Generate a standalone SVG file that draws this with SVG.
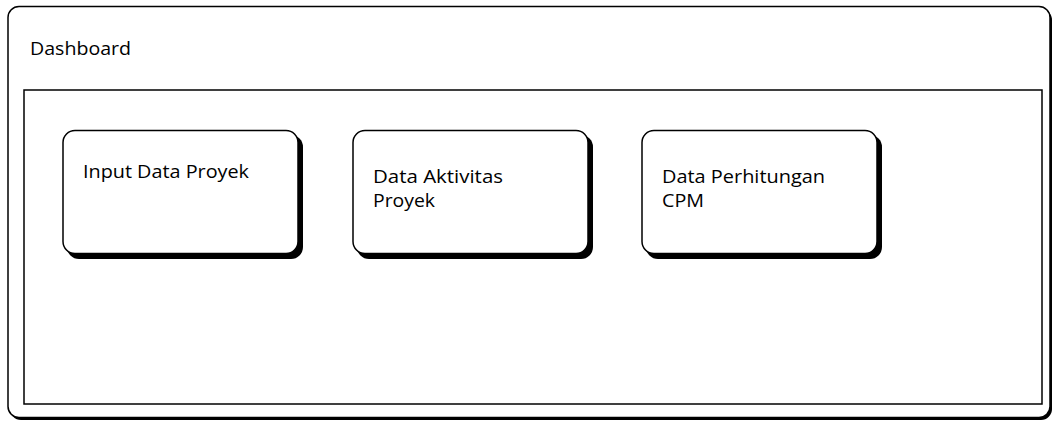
<svg xmlns="http://www.w3.org/2000/svg" width="1053" height="421" viewBox="0 0 1053 421">
  <style>
    .frame { fill: #ffffff; stroke: #000000; stroke-width: 1.5; }
    .card { fill: #ffffff; stroke: #000000; stroke-width: 1.5; }
    .shadow { fill: #000000; }
    .label { font-family: "Open Sans", "Liberation Sans", sans-serif; font-size: 17.5px; fill: #000000; }
  </style>
  <rect width="1053" height="421" fill="#ffffff"/>

  <!-- outer dashboard window -->
  <g id="dashboard">
    <rect class="shadow" x="10" y="9" width="1042" height="411" rx="11"/>
    <rect class="frame" x="8" y="6.5" width="1042" height="411" rx="11"/>
    <text class="label" x="30" y="55" textLength="101" lengthAdjust="spacingAndGlyphs">Dashboard</text>
    <rect class="frame" x="24" y="90" width="1018" height="314" fill="none"/>
  </g>

  <!-- menu cards -->
  <g id="card-input">
    <rect class="shadow" x="67" y="135" width="236" height="124" rx="12"/>
    <rect class="card" x="63" y="130.5" width="235" height="123" rx="12"/>
    <text class="label" x="83" y="178" textLength="166" lengthAdjust="spacingAndGlyphs">Input Data Proyek</text>
  </g>

  <g id="card-aktivitas">
    <rect class="shadow" x="357" y="135" width="236" height="124" rx="12"/>
    <rect class="card" x="353" y="130.5" width="235" height="123" rx="12"/>
    <text class="label" x="373" y="183" textLength="130" lengthAdjust="spacingAndGlyphs">Data Aktivitas</text>
    <text class="label" x="373" y="207" textLength="62" lengthAdjust="spacingAndGlyphs">Proyek</text>
  </g>

  <g id="card-cpm">
    <rect class="shadow" x="646" y="135" width="236" height="124" rx="12"/>
    <rect class="card" x="642" y="130.5" width="235" height="123" rx="12"/>
    <text class="label" x="662" y="183" textLength="163" lengthAdjust="spacingAndGlyphs">Data Perhitungan</text>
    <text class="label" x="662" y="207" textLength="42" lengthAdjust="spacingAndGlyphs">CPM</text>
  </g>

  <g id="connectors"/>
</svg>
